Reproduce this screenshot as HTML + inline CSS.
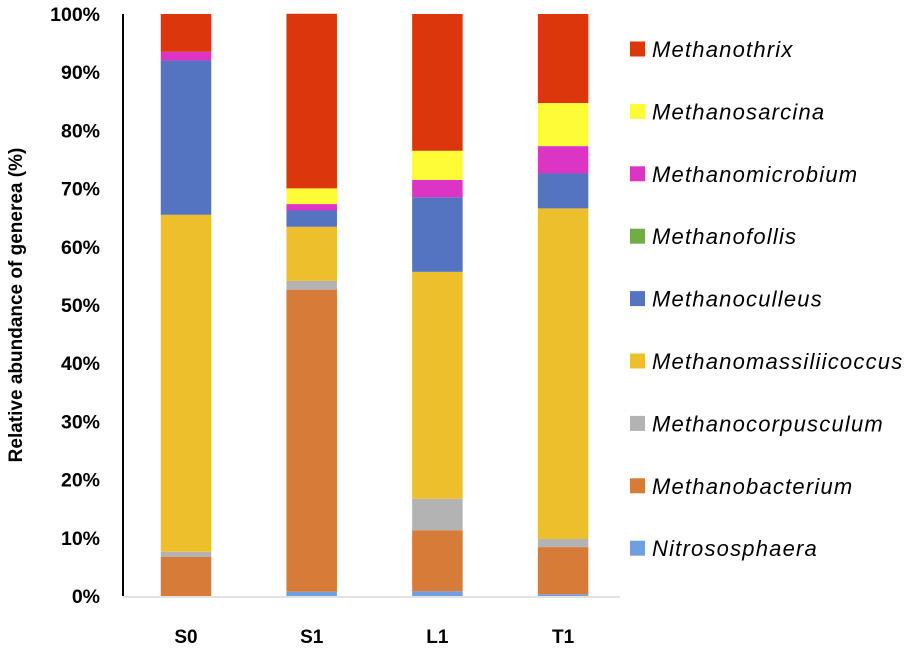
<!DOCTYPE html>
<html><head><meta charset="utf-8"><style>
body{margin:0;background:#fff;}
svg text{font-family:"Liberation Sans",sans-serif;}
</style></head><body>
<svg id="chart" width="914" height="652" xmlns="http://www.w3.org/2000/svg"></svg>
<script>
const categories = ["S0","S1","L1","T1"];
const series = ["Nitrososphaera","Methanobacterium","Methanocorpusculum","Methanomassiliicoccus","Methanoculleus","Methanofollis","Methanomicrobium","Methanosarcina","Methanothrix"];
const colors = ["#6f9fdc","#d67b38","#b3b3b3","#eebf2d","#5473c1","#70ad47","#dc34c4","#fdfc36","#dc360d"];
const nitrososphaera = [0, 0.74, 0.8, 0.3];
const methanobacterium = [6.7, 51.9, 10.5, 8.1];
const methanocorpusculum = [0.9, 1.5, 5.4, 1.4];
const methanomassiliicoccus = [57.9, 9.3, 39.0, 56.8];
const methanoculleus = [26.5, 2.8, 12.8, 6.0];
const methanofollis = [0, 0, 0, 0];
const methanomicrobium = [1.5, 1.1, 3.0, 4.7];
const methanosarcina = [0, 2.7, 5.0, 7.4];
const methanothrix = [6.5, 30.0, 23.5, 15.3];
const yTicks = [0,10,20,30,40,50,60,70,80,90,100];

const values = [nitrososphaera, methanobacterium, methanocorpusculum, methanomassiliicoccus, methanoculleus, methanofollis, methanomicrobium, methanosarcina, methanothrix];
const svg = document.getElementById('chart');
const NS = "http://www.w3.org/2000/svg";
const y0 = 596, y1 = 14, xL = 123;
function yScale(v){ return y0 - (v/100)*(y0-y1); }
function xScale(i){ return 186 + i*125.7; }
const barW = 50.5;
function mk(tag, attrs, text){ const e=document.createElementNS(NS,tag); for(const k in attrs) e.setAttribute(k,attrs[k]); if(text!==undefined) e.textContent=text; svg.appendChild(e); return e; }

// bars
categories.forEach((c,i)=>{
  let cum = 0;
  values.forEach((arr,s)=>{
    const v = arr[i];
    if (v<=0){ return; }
    const r = mk('rect',{x:xScale(i)-barW/2, y:yScale(cum+v), width:barW, height:yScale(cum)-yScale(cum+v), fill:colors[s]});
    
    
    cum += v;
  });
  const t = mk('text',{x:xScale(i), y:643, 'text-anchor':'middle', 'font-size':19, 'font-weight':'bold', fill:'#000'}, c);
  
  
});
// axes
const ya = mk('line',{x1:xL,y1:y1,x2:xL,y2:y0,stroke:'#000','stroke-width':2});


const xa = mk('line',{x1:xL,y1:y0+1,x2:620,y2:y0+1,stroke:'#d9d9d9','stroke-width':1.5});


yTicks.forEach(t=>{
  const e = mk('text',{x:100, y:yScale(t)+7, 'text-anchor':'end', 'font-size':19.5, 'font-weight':'bold', fill:'#000'}, t+'%');
  
  
});
const yt = mk('text',{x:0,y:0,transform:'translate(22,305) rotate(-90)','text-anchor':'middle','font-size':19,'font-weight':'bold',fill:'#000'},'Relative abundance of generea (%)');


// legend
for(let k=0;k<series.length;k++){
  const s = series.length-1-k;
  const cy = 49 + k*62.4;
  const r = mk('rect',{x:630,y:cy-7.5,width:15,height:15,fill:colors[s]});
  
  
  const t = mk('text',{x:652,y:cy+8,'font-size':22,'font-style':'italic','letter-spacing':1.2,fill:'#000'},series[s]);
  
  
}
</script>
</body></html>
